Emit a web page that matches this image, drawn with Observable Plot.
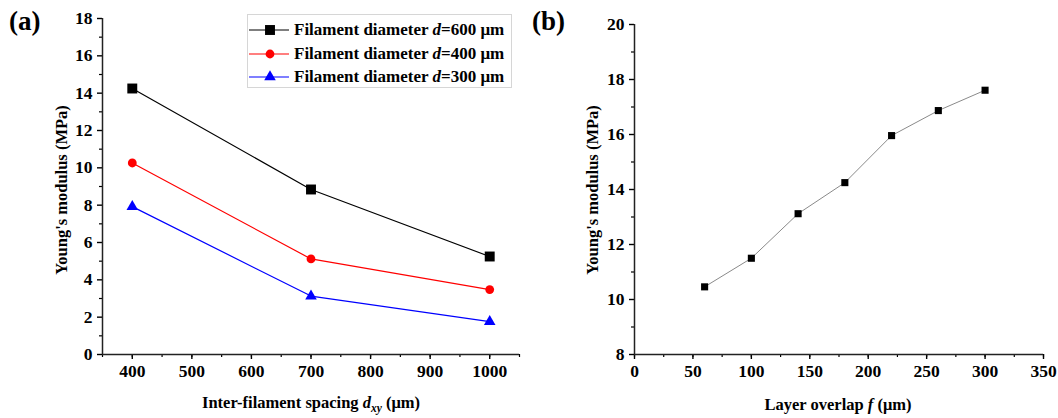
<!DOCTYPE html>
<html><head><meta charset="utf-8">
<script src="https://cdn.jsdelivr.net/npm/d3@7"></script>
<script src="https://cdn.jsdelivr.net/npm/@observablehq/plot@0.6"></script>
<style>
body{margin:0;background:#fff;}
#wrap{position:relative;width:1058px;height:418px;overflow:hidden;font-family:"Liberation Serif","Times New Roman",serif;font-weight:bold;color:#000;background:#fff;}
.abs{position:absolute;white-space:nowrap;line-height:1;}
.panel{position:absolute;top:0;}
.panel text{font-family:"Liberation Serif",serif;font-weight:bold;}
.ytitle{transform:translate(-50%,-50%) rotate(-90deg);font-size:16.5px;}
.xtitle{transform:translate(-50%,-50%);font-size:16.5px;}
.tag{font-size:27px;}
#legend{position:absolute;left:247px;top:14px;width:265px;height:74px;border:1px solid #d6d6d6;box-sizing:border-box;background:#fff;}
.lrow{position:absolute;left:0;height:20px;display:flex;align-items:center;font-size:17px;white-space:nowrap;}
.lrow svg{margin-left:1px;margin-right:5px;}
</style></head>
<body><div id="wrap"></div>
<script>
// ---- data: panel (a)
const spacing = [400, 700, 1000];
const diameters = ["600", "400", "300"];
const mod600 = [14.25, 8.84, 5.25];
const mod400 = [10.26, 5.12, 3.48];
const mod300 = [7.92, 3.13, 1.76];
const seriesColors = ["#000000", "#ff0000", "#0000ff"];
const seriesSymbols = ["square", "circle", "triangle"];
const xTicksA = [400, 500, 600, 700, 800, 900, 1000];
const yTicksA = [0, 2, 4, 6, 8, 10, 12, 14, 16, 18];
// ---- data: panel (b)
const overlap = [60, 100, 140, 180, 220, 260, 300];
const modOverlap = [10.46, 11.5, 13.12, 14.25, 15.96, 16.87, 17.61];
const xTicksB = [0, 50, 100, 150, 200, 250, 300, 350];
const yTicksB = [8, 10, 12, 14, 16, 18, 20];

const seriesVals = [mod600, mod400, mod300];
const rowsA = diameters.flatMap((d, k) => spacing.map((s, i) => ({x: s, y: seriesVals[k][i], d})));
const rowsB = overlap.map((f, i) => ({x: f, y: modOverlap[i]}));

const wrap = document.getElementById("wrap");
const FONT = '"Liberation Serif","Times New Roman",serif';
const baseStyle = {fontFamily: FONT, fontSize: "17.5px", fontWeight: "bold", color: "#000", background: "transparent", overflow: "visible"};
const txt = {fontSize: 17.5, fontWeight: "bold", fontFamily: FONT, fill: "#000"};

function axes(xDom, yDom, xMaj, xMin, yMaj, yMin) {
  return [
    Plot.axisX(xMaj, {tickSize: 5, tickPadding: 5, label: null, strokeWidth: 1.4, tickFormat: d => String(d), ...txt}),
    Plot.axisX(xMin, {tickSize: 3, tickFormat: () => "", label: null, strokeWidth: 1.2}),
    Plot.axisY(yMaj, {tickSize: 5, tickPadding: 5, label: null, strokeWidth: 1.4, tickFormat: d => String(d), ...txt}),
    Plot.axisY(yMin, {tickSize: 3, tickFormat: () => "", label: null, strokeWidth: 1.2}),
    Plot.ruleX([xDom[0]], {stroke: "#222", strokeWidth: 1.5}),
    Plot.ruleY([yDom[0]], {stroke: "#222", strokeWidth: 1.5})
  ];
}

// ---- panel (a)
const sizeR = {square: 5.6, circle: 4.4, triangle: 4.3};
const plotA = Plot.plot({
  width: 529, height: 418,
  marginLeft: 102, marginRight: 10, marginTop: 18, marginBottom: 64,
  x: {domain: [350, 1050]},
  y: {domain: [0, 18]},
  style: baseStyle,
  marks: [
    ...axes([350, 1050], [0, 18], xTicksA, d3.range(350, 1051, 50), yTicksA, d3.range(1, 18, 2)),
    ...diameters.map((d, k) => Plot.line(rowsA.filter(r => r.d === d), {x: "x", y: "y", stroke: seriesColors[k], strokeWidth: 1.2})),
    ...diameters.map((d, k) => Plot.dot(rowsA.filter(r => r.d === d), {x: "x", y: "y", symbol: () => seriesSymbols[k], fill: seriesColors[k], stroke: "none", r: sizeR[seriesSymbols[k]]}))
  ]
});
plotA.classList.add("panel");
plotA.style.left = "0px";
wrap.appendChild(plotA);

// ---- panel (b)
const plotB = Plot.plot({
  width: 529, height: 418,
  marginLeft: 105, marginRight: 15, marginTop: 24, marginBottom: 64,
  x: {domain: [0, 350]},
  y: {domain: [8, 20]},
  style: baseStyle,
  marks: [
    ...axes([0, 350], [8, 20], xTicksB, d3.range(0, 351, 25), yTicksB, d3.range(9, 20, 2)),
    Plot.line(rowsB, {x: "x", y: "y", stroke: "#8a8a8a", strokeWidth: 1}),
    Plot.dot(rowsB, {x: "x", y: "y", symbol: "square", fill: "#000", stroke: "none", r: 4})
  ]
});
plotB.classList.add("panel");
plotB.style.left = "529px";
wrap.appendChild(plotB);

// ---- texts
function addText(html, cls, left, top) {
  const el = document.createElement("div");
  el.className = "abs " + cls;
  el.style.left = left + "px";
  el.style.top = top + "px";
  el.innerHTML = html;
  wrap.appendChild(el);
  return el;
}
addText("(a)", "tag", 9, 8);
addText("(b)", "tag", 532, 8);
addText("Young's modulus (MPa)", "ytitle", 62, 190);
addText("Young's modulus (MPa)", "ytitle", 593, 190);
addText('Inter-filament spacing <i>d</i><sub style="font-size:11.5px;vertical-align:-4px"><i>xy</i></sub> (μm)', "xtitle", 311, 405);
addText('Layer overlap <i>f</i> (μm)', "xtitle", 838, 405);

// ---- legend
const legend = document.createElement("div");
legend.id = "legend";
wrap.appendChild(legend);
const legendLabels = diameters.map(d => `Filament diameter <i>d</i>=${d} μm`);
const symPath = {
  square: d3.symbol(d3.symbolSquare, Math.PI * 5.6 * 5.6)(),
  circle: d3.symbol(d3.symbolCircle, Math.PI * 4.4 * 4.4)(),
  triangle: d3.symbol(d3.symbolTriangle, Math.PI * 4.3 * 4.3)()
};
diameters.forEach((d, k) => {
  const row = document.createElement("div");
  row.className = "lrow";
  row.style.top = (5 + k * 23.5) + "px";
  row.innerHTML = `<svg width="40" height="14" viewBox="0 0 40 14"><line x1="0" x2="40" y1="7" y2="7" stroke="${seriesColors[k]}" stroke-width="1.2"/><path transform="translate(21,7)" d="${symPath[seriesSymbols[k]]}" fill="${seriesColors[k]}"/></svg><span>${legendLabels[k]}</span>`;
  legend.appendChild(row);
});
</script>
</body></html>
